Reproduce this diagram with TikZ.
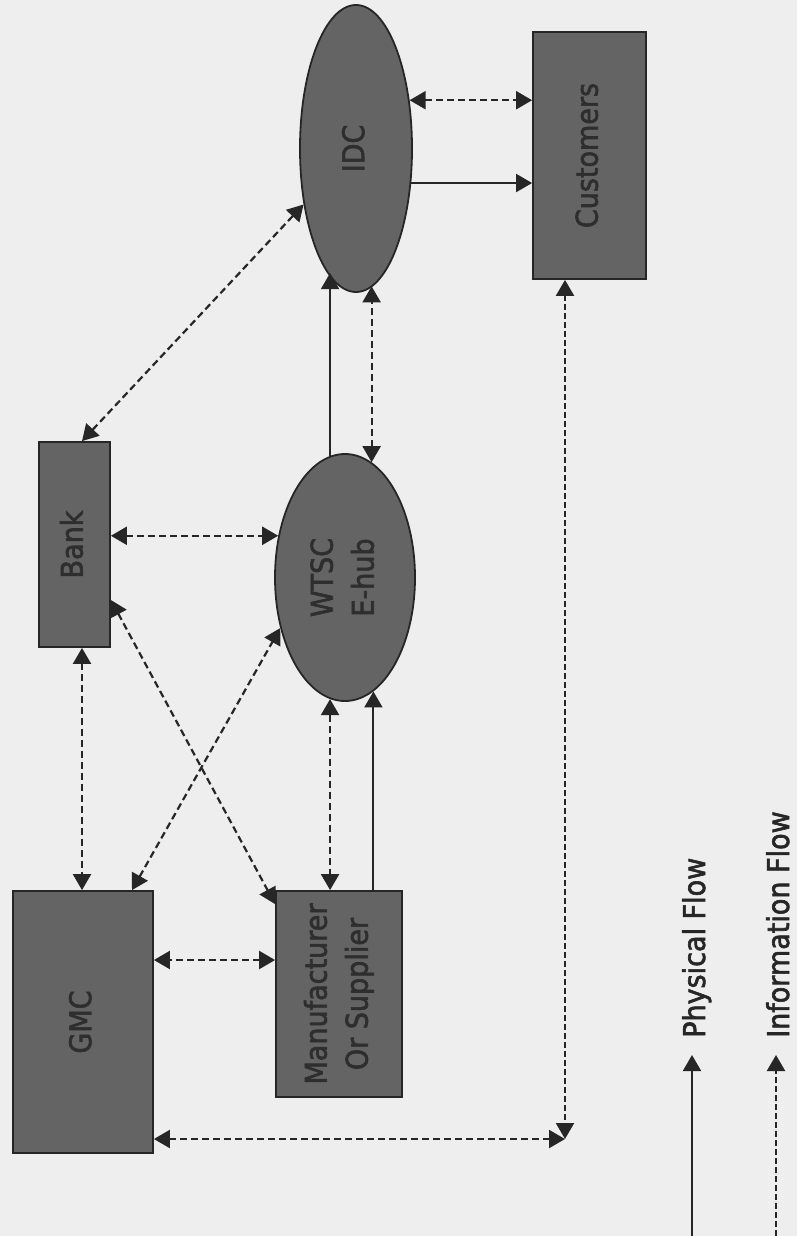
\documentclass[tikz,border=0pt]{standalone}
\usepackage{fontspec}
\setmainfont{DejaVu Sans}[FakeStretch=0.9,FakeBold=2]
\usetikzlibrary{arrows.meta,shapes.geometric}
\definecolor{bg}{HTML}{EEEEEE}
\definecolor{boxfill}{HTML}{646464}
\definecolor{boxtext}{HTML}{2E2E2E}
\definecolor{ink}{HTML}{262626}
\tikzset{
  tip/.tip={Triangle[length=16pt,width=18pt]},
  box/.style={draw=ink, line width=1.8pt, fill=boxfill, text=boxtext, inner sep=0pt,
              font=\fontsize{30}{41}\selectfont},
  oval/.style={ellipse, draw=ink, line width=1.8pt, fill=boxfill, text=boxtext, inner sep=0pt,
              font=\fontsize{30}{41}\selectfont},
  phys/.style={draw=ink, line width=2pt, -tip},
  info/.style={draw=ink, line width=2.2pt, dash pattern=on 7pt off 4pt, tip-tip},
  infofine/.style={draw=ink, line width=2.2pt, dash pattern=on 6pt off 3pt, tip-tip},
  infoone/.style={draw=ink, line width=2.2pt, dash pattern=on 6pt off 3pt, -tip},
  lbl/.style={text=ink, inner sep=0pt, font=\fontsize{30}{36}\selectfont}
}
\newcommand{\rtext}[1]{\rotatebox{90}{\begin{tabular}{@{}c@{}}#1\end{tabular}}}
\begin{document}
\begin{tikzpicture}[x=1pt,y=-1pt]
\fill[bg] (0,0) rectangle (797,1236);
\useasboundingbox (0,0) rectangle (797,1236);

% nodes
\node[box, minimum width=140pt, minimum height=262pt] (gmc) at (83,1022) {\rtext{GMC}};
\node[box, minimum width=126pt, minimum height=206pt] (mfr) at (339,994) {\rtext{Manufacturer\\Or Supplier}};
\node[box, minimum width=71pt, minimum height=205pt] (bank) at (74.5,544.5) {\rtext{Bank}};
\node[oval, minimum width=140pt, minimum height=247pt] (wtsc) at (345,577.5) {\rtext{WTSC\\E-hub}};
\node[oval, minimum width=112pt, minimum height=287pt] (idc) at (356,148.5) {\rtext{IDC}};
\node[box, minimum width=113pt, minimum height=247pt] (cust) at (589.5,155.5) {\rtext{Customers}};

% connectors
\draw[info] (idc.42) -- (idc.42 -| cust.west);
\draw[phys] (idc.-32.4) -- (idc.-32.4 -| cust.west);
\draw[phys] (wtsc.97.6) -- (wtsc.97.6 |- idc.257.9);
\draw[info] (wtsc.77.2) -- (wtsc.77.2 |- idc.-83.8);
\draw[info] ([xshift=7.5pt]bank.north) -- (idc);
\draw[info] (bank.east |- wtsc.148.5) -- (wtsc.148.5);
\draw[info] ([xshift=7.5pt]bank.south) -- ([xshift=7.5pt]bank.south |- gmc.north);
\draw[info] ([yshift=-55.5pt]bank.east) -- ([yshift=-14pt]mfr.north west);
\draw[info] ([xshift=49pt]gmc.north) -- (wtsc.218.3);
\draw[info] ([yshift=34pt]mfr.west) -- ([yshift=34pt]mfr.west -| gmc.east);
\draw[info] (wtsc.263.4) -- (wtsc.263.4 |- mfr.north);
\draw[phys] (wtsc.-76.1 |- mfr.north) -- (wtsc.-76.1);
\coordinate (corner) at (565,1139);
\draw[infofine] ([xshift=-24.5pt]cust.south) -- (corner);
\draw[info] ([yshift=-117pt]gmc.east) -- (corner);

% legend
\coordinate (p0) at (692,1236);
\coordinate (p1) at (692,1055);
\coordinate (i0) at (776,1236);
\coordinate (i1) at (776,1055);
\draw[phys] (p0) -- (p1);
\draw[infoone] (i0) -- (i1);
\node[lbl, rotate=90, anchor=base west] (ptext) at (705,1038) {Physical Flow};
\node[lbl, rotate=90, anchor=base west] (itext) at (789,1038) {Information Flow};
\end{tikzpicture}
\end{document}
